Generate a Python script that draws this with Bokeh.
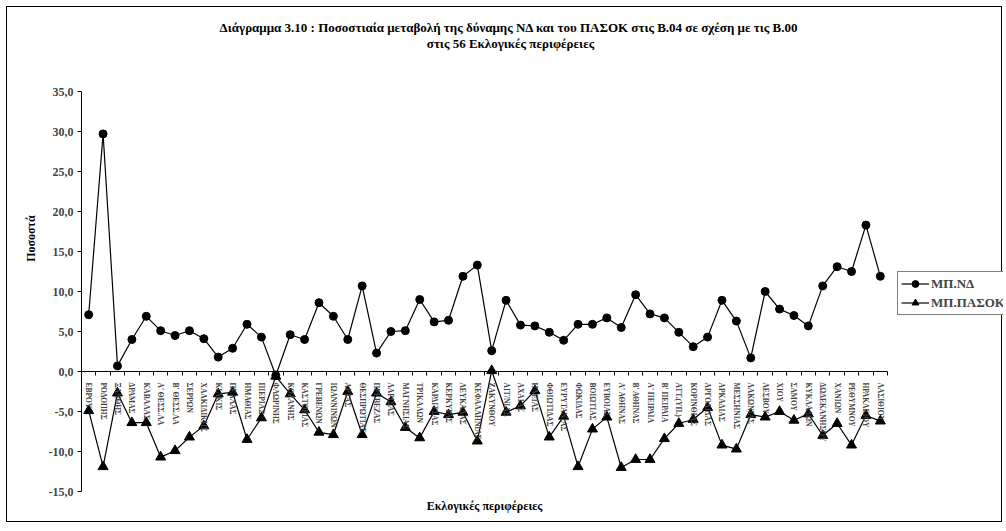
import numpy as np
from bokeh.plotting import figure
from bokeh.models import Range1d, FixedTicker, Legend, LegendItem, Label
from bokeh.embed import file_html
from bokeh.resources import INLINE

districts = ["ΕΒΡΟΥ", "ΡΟΔΟΠΗΣ", "ΞΑΝΘΗΣ", "ΔΡΑΜΑΣ", "ΚΑΒΑΛΑΣ", "Α' ΘΕΣΣ.ΛΑ", "Β' ΘΕΣΣ.ΛΑ",
             "ΣΕΡΡΩΝ", "ΧΑΛΚΙΔΙΚΗΣ", "ΚΙΛΚΙΣ", "ΠΕΛΛΑΣ", "ΗΜΑΘΙΑΣ", "ΠΙΕΡΙΑΣ", "ΦΛΩΡΙΝΗΣ",
             "ΚΟΖΑΝΗΣ", "ΚΑΣΤΟΡΙΑΣ", "ΓΡΕΒΕΝΩΝ", "ΙΩΑΝΝΙΝΩΝ", "ΑΡΤΑΣ", "ΘΕΣΠΡΩΤΙΑΣ",
             "ΠΡΕΒΕΖΑΣ", "ΛΑΡΙΣΑΣ", "ΜΑΓΝΗΣΙΑΣ", "ΤΡΙΚΑΛΩΝ", "ΚΑΡΔΙΤΣΑΣ", "ΚΕΡΚΥΡΑΣ",
             "ΛΕΥΚΑΔΑΣ", "ΚΕΦΑΛΛΗΝΙΑΣ", "ΖΑΚΥΝΘΟΥ", "ΑΙΤ/ΝΙΑΣ", "ΑΧΑΙΑΣ", "ΗΛΕΙΑΣ",
             "ΦΘΙΩΤΙΔΑΣ", "ΕΥΡΥΤΑΝΙΑΣ", "ΦΩΚΙΔΑΣ", "ΒΟΙΩΤΙΑΣ", "ΕΥΒΟΙΑΣ", "Α' ΑΘΗΝΑΣ",
             "Β' ΑΘΗΝΑΣ", "Α' ΠΕΙΡΑΙΑ", "Β' ΠΕΙΡΑΙΑ", "ΑΤΤ.(ΥΠ.)", "ΚΟΡΙΝΘΙΑΣ", "ΑΡΓΟΛΙΔΑΣ",
             "ΑΡΚΑΔΙΑΣ", "ΜΕΣΣΗΝΙΑΣ", "ΛΑΚΩΝΙΑΣ", "ΛΕΣΒΟΥ", "ΧΙΟΥ", "ΣΑΜΟΥ", "ΚΥΚΛΑΔΩΝ",
             "ΔΩΔΕΚΑΝΗΣΟΥ", "ΧΑΝΙΩΝ", "ΡΕΘΥΜΝΟΥ", "ΗΡΑΚΛΕΙΟΥ", "ΛΑΣΙΘΙΟΥ"]

mp_nd = [7.1, 29.7, 0.7, 4.0, 6.9, 5.1, 4.5, 5.1, 4.1, 1.8, 2.9, 5.9, 4.3, -0.5,
         4.6, 4.0, 8.6, 6.9, 4.0, 10.7, 2.3, 5.0, 5.1, 9.0, 6.2, 6.4, 11.9, 13.3,
         2.6, 8.9, 5.8, 5.7, 4.9, 3.9, 5.9, 5.9, 6.7, 5.5, 9.6, 7.2, 6.7, 4.9,
         3.1, 4.3, 8.9, 6.3, 1.7, 10.0, 7.8, 7.0, 5.7, 10.7, 13.1, 12.5, 18.3, 11.9]

mp_pasok = [-4.9, -11.9, -2.7, -6.4, -6.4, -10.7, -9.9, -8.2, -6.8, -2.8, -2.6, -8.5, -5.8, -0.6,
            -2.8, -4.8, -7.6, -7.9, -2.5, -7.9, -2.7, -3.8, -7.0, -8.3, -5.0, -5.4, -5.1, -8.7,
            0.1, -5.1, -4.3, -2.4, -8.2, -5.6, -11.9, -7.2, -5.7, -12.0, -11.0, -11.0, -8.4, -6.5,
            -6.0, -4.5, -9.2, -9.7, -5.4, -5.7, -5.0, -6.1, -5.3, -8.0, -6.5, -9.2, -5.5, -6.2]

y_ticks = [-15, -10, -5, 0, 5, 10, 15, 20, 25, 30, 35]

title_lines = ["Διάγραμμα 3.10 : Ποσοστιαία μεταβολή της δύναμης  ΝΔ και του ΠΑΣΟΚ στις Β.04 σε σχέση με τις Β.00",
               "στις 56 Εκλογικές περιφέρειες"]
x_title = "Εκλογικές περιφέρειες"
y_title = "Ποσοστά"
series_names = ["ΜΠ.ΝΔ", "ΜΠ.ΠΑΣΟΚ"]

FONT = "Liberation Serif"
W, H = 996, 516                       # canvas; the page draws it at (7, 7) inside a 1px border
n = len(districts)
xs = list(range(n))

# the whole canvas is the plot frame; axes are pinned inside it
AX_LEFT, AX_TOP, AX_BOTTOM = 74, 84, 484   # canvas px of the value axis
Y_MIN, Y_MAX = y_ticks[0], y_ticks[-1]
CAT_PX = 806 / n
ppu = (AX_BOTTOM - AX_TOP) / (Y_MAX - Y_MIN)
x_start = -0.5 - AX_LEFT / CAT_PX
x_end = -0.5 + (W - AX_LEFT) / CAT_PX
y_top = Y_MAX + AX_TOP / ppu
y_bot = Y_MIN - (H - AX_BOTTOM) / ppu

p = figure(width=W, height=H, x_range=Range1d(x_start, x_end), y_range=Range1d(y_bot, y_top),
           output_backend="svg", toolbar_location=None,
           min_border_left=0, min_border_right=0, min_border_top=0, min_border_bottom=0)
p.styles = {"margin-left": "6px", "margin-top": "6px", "border": "1px solid black"}
p.xgrid.visible = False
p.ygrid.visible = False
p.outline_line_color = None
p.background_fill_color = "white"
p.border_fill_color = "white"

l1 = p.line(xs, mp_nd, line_color="black", line_width=1.2)
s1 = p.scatter(xs, mp_nd, marker="circle", size=8, fill_color="black", line_color="black")
l2 = p.line(xs, mp_pasok, line_color="black", line_width=1.2)
s2 = p.scatter(xs, mp_pasok, marker="triangle", size=10, fill_color="black", line_color="black")

# category axis crossing the value axis at zero
xa = p.xaxis[0]
xa.fixed_location = 0
xa.bounds = (-0.5, n - 0.5)
xa.ticker = FixedTicker(ticks=xs, minor_ticks=[i - 0.5 for i in range(n + 1)])
xa.major_label_overrides = {i: d for i, d in zip(xs, districts)}
xa.major_label_orientation = -np.pi / 2
xa.major_tick_line_color = None
xa.minor_tick_line_color = "black"
xa.minor_tick_out = 4
xa.minor_tick_in = 0
xa.axis_line_color = "black"
xa.major_label_text_font = FONT
xa.major_label_text_font_style = "bold"
xa.major_label_text_font_size = "7.5px"
xa.major_label_standoff = 5

ya = p.yaxis[0]
ya.fixed_location = -0.5
ya.bounds = (Y_MIN, Y_MAX)
ya.ticker = FixedTicker(ticks=y_ticks, minor_ticks=[])
ya.major_label_overrides = {t: f"{t:.1f}".replace(".", ",") for t in y_ticks}
ya.major_tick_out = 4
ya.major_tick_in = 0
ya.major_label_standoff = 4
ya.axis_line_color = "black"
ya.major_label_text_font = FONT
ya.major_label_text_font_style = "bold"
ya.major_label_text_font_size = "12px"

# texts in canvas pixels (x from left, y up from bottom)
for txt, yy in zip(title_lines, [496, 480]):
    p.add_layout(Label(x=503, y=yy, x_units="screen", y_units="screen", text=txt,
                       text_align="center", text_baseline="middle", text_font=FONT,
                       text_font_style="bold", text_font_size="13px", text_color="black"))

p.add_layout(Label(x=477, y=18, x_units="screen", y_units="screen", text=x_title,
                   text_align="center", text_baseline="middle", text_font=FONT,
                   text_font_style="bold", text_font_size="12px", text_color="black"))

p.add_layout(Label(x=23, y=285, x_units="screen", y_units="screen", text=y_title,
                   angle=np.pi / 2, text_align="center", text_baseline="middle", text_font=FONT,
                   text_font_style="bold", text_font_size="12px", text_color="black"))

legend = Legend(items=[LegendItem(label=series_names[0], renderers=[l1, s1]),
                       LegendItem(label=series_names[1], renderers=[l2, s2])],
                location=(890, 208), orientation="vertical",
                border_line_color="black", border_line_width=1,
                background_fill_color="white", background_fill_alpha=1.0,
                label_text_font=FONT, label_text_font_style="bold", label_text_font_size="13px",
                glyph_width=28, glyph_height=17, label_standoff=2, spacing=2, padding=3, margin=0,
                label_height=17)
p.add_layout(legend, "center")

open("out.html", "w").write(file_html(p, INLINE))
